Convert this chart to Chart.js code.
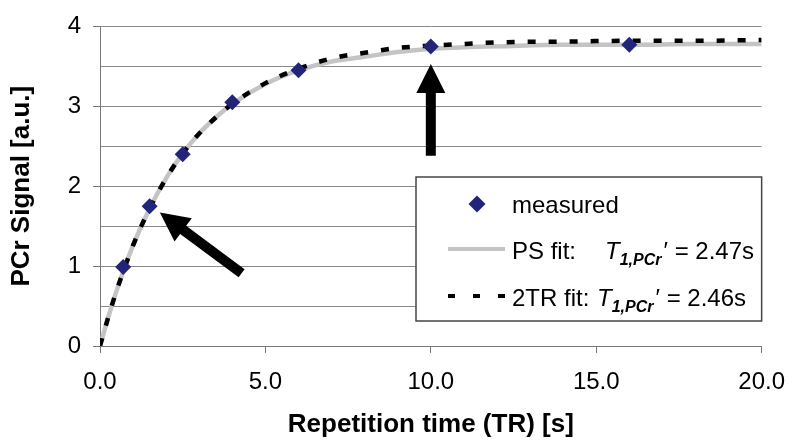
<!DOCTYPE html>
<html>
<head>
<meta charset="utf-8">
<script src="https://cdn.jsdelivr.net/npm/chart.js@4/dist/chart.umd.min.js"></script>
<style>
    html, body { margin: 0; padding: 0; background: #ffffff; }
    #wrap { width: 800px; height: 447px; position: relative; }
</style>
</head>
<body>
<div id="wrap"><canvas id="pcr-chart"></canvas></div>
<script>
// measured points
const measuredTR = [0.7, 1.5, 2.5, 4.0, 6.0, 10.0, 16.0];
const measuredSignal = [0.99, 1.75, 2.40, 3.05, 3.45, 3.75, 3.77];

// fit curves
const fitTR = [0, 0.25, 0.5, 1, 1.5, 2, 2.5, 3, 3.5, 4, 5, 6, 7, 8, 9, 10, 11, 12, 14, 16, 18, 20];
const psFit = [0, 0.36, 0.69, 1.26, 1.72, 2.10, 2.41, 2.66, 2.86, 3.03, 3.28, 3.45, 3.56, 3.62, 3.68, 3.72, 3.74, 3.75, 3.77, 3.77, 3.78, 3.78];
const tr2Fit = [0, 0.36, 0.69, 1.26, 1.72, 2.10, 2.41, 2.66, 2.86, 3.03, 3.29, 3.47, 3.60, 3.67, 3.73, 3.76, 3.78, 3.80, 3.81, 3.82, 3.82, 3.83];

// axis ticks
const xTicks = [0, 5, 10, 15, 20];
const yMin = 0, yMax = 4, yStep = 0.5;

// legend entries
const legendLabels = ['measured', 'PS fit:', '2TR fit:'];
const legendT1 = ['2.47s', '2.46s'];

// arrows, tip and tail in data units
const arrows = [
    { tip: [1.81, 1.67], tail: [4.28, 0.91] },
    { tip: [10.0, 3.53], tail: [10.0, 2.38] }
];

const FONT = '"Liberation Sans", Arial, sans-serif';
const NAVY = '#22247a';

function toPoints(xs, ys) {
    return xs.map((x, i) => ({ x: x, y: ys[i] }));
}

function drawArrow(ctx, x1, y1, x2, y2, shaft, headLen, headW) {
    // x1,y1 = tail ; x2,y2 = tip
    const ang = Math.atan2(y2 - y1, x2 - x1);
    const len = Math.hypot(x2 - x1, y2 - y1);
    ctx.save();
    ctx.translate(x1, y1);
    ctx.rotate(ang);
    ctx.beginPath();
    ctx.moveTo(0, -shaft / 2);
    ctx.lineTo(len - headLen, -shaft / 2);
    ctx.lineTo(len - headLen, -headW / 2);
    ctx.lineTo(len, 0);
    ctx.lineTo(len - headLen, headW / 2);
    ctx.lineTo(len - headLen, shaft / 2);
    ctx.lineTo(0, shaft / 2);
    ctx.closePath();
    ctx.fillStyle = '#000000';
    ctx.fill();
    ctx.restore();
}

const annotationPlugin = {
    id: 'annotations',
    afterDatasetsDraw(chart) {
        const ctx = chart.ctx;
        const xs = chart.scales.x, ys = chart.scales.y;
        arrows.forEach(a => {
            drawArrow(ctx,
                xs.getPixelForValue(a.tail[0]), ys.getPixelForValue(a.tail[1]),
                xs.getPixelForValue(a.tip[0]), ys.getPixelForValue(a.tip[1]),
                10, 29, 29);
        });
    },
    afterDraw(chart) {
        const ctx = chart.ctx;
        const area = chart.chartArea;
        // legend box
        const bx = 416, by = 177, bw = area.right - 416, bh = 144;
        ctx.save();
        ctx.fillStyle = '#ffffff';
        ctx.fillRect(bx, by, bw, bh);
        ctx.strokeStyle = '#444444';
        ctx.lineWidth = 1.5;
        ctx.strokeRect(bx, by, bw, bh);

        const rows = [213, 259, 306];
        const textX = 512;

        // marker
        ctx.beginPath();
        const mx = 477, my = rows[0] - 9, r = 8.5;
        ctx.moveTo(mx, my - r);
        ctx.lineTo(mx + r, my);
        ctx.lineTo(mx, my + r);
        ctx.lineTo(mx - r, my);
        ctx.closePath();
        ctx.fillStyle = NAVY;
        ctx.fill();

        // gray line
        ctx.strokeStyle = '#c4c4c4';
        ctx.lineWidth = 4;
        ctx.beginPath();
        ctx.moveTo(448, rows[1] - 10);
        ctx.lineTo(505, rows[1] - 10);
        ctx.stroke();

        // dashed line
        ctx.strokeStyle = '#000000';
        ctx.setLineDash([7, 18]);
        ctx.beginPath();
        ctx.moveTo(448, rows[2] - 10);
        ctx.lineTo(506, rows[2] - 10);
        ctx.stroke();
        ctx.setLineDash([]);

        ctx.fillStyle = '#000000';
        ctx.textBaseline = 'alphabetic';
        ctx.textAlign = 'left';
        ctx.font = '24px ' + FONT;
        ctx.fillText(legendLabels[0], textX, rows[0]);

        const tX = [605, 597];
        for (let i = 0; i < 2; i++) {
            const y = rows[i + 1];
            ctx.font = '24px ' + FONT;
            ctx.fillText(legendLabels[i + 1], textX, y);
            let x = tX[i];
            ctx.font = 'italic 24px ' + FONT;
            ctx.fillText('T', x, y);
            x += ctx.measureText('T').width;
            ctx.font = 'italic bold 16px ' + FONT;
            ctx.fillText('1,PCr', x, y + 6);
            x += ctx.measureText('1,PCr').width + 2;
            ctx.font = '24px ' + FONT;
            ctx.fillText('\u2032 = ' + legendT1[i], x, y);
        }
        ctx.restore();
    }
};

new Chart(document.getElementById('pcr-chart').getContext('2d'), {
    type: 'scatter',
    data: {
        datasets: [
            {
                label: 'measured',
                data: toPoints(measuredTR, measuredSignal),
                pointStyle: 'rectRot',
                pointRadius: 8,
                pointBackgroundColor: NAVY,
                pointBorderColor: NAVY,
                pointBorderWidth: 0,
                showLine: false,
                order: 0
            },
            {
                label: '2TR fit',
                data: toPoints(fitTR, tr2Fit),
                showLine: true,
                borderColor: '#000000',
                borderWidth: 4.5,
                borderDash: [8, 13],
                pointRadius: 0,
                cubicInterpolationMode: 'monotone',
                order: 1
            },
            {
                label: 'PS fit',
                data: toPoints(fitTR, psFit),
                showLine: true,
                borderColor: '#c4c4c4',
                borderWidth: 4.5,
                pointRadius: 0,
                cubicInterpolationMode: 'monotone',
                order: 2
            }
        ]
    },
    options: {
        responsive: true,
        maintainAspectRatio: false,
        animation: false,
        layout: {
            padding: { left: 0, right: 37, top: 20, bottom: 0 }
        },
        scales: {
            x: {
                type: 'linear',
                min: 0,
                max: 20,
                afterBuildTicks: scale => {
                    scale.ticks = xTicks.map(v => ({ value: v }));
                },
                afterFit: scale => { scale.height = 101; },
                ticks: {
                    color: '#000000',
                    font: { family: FONT, size: 24 },
                    padding: 15,
                    maxRotation: 0,
                    callback: v => Number(v).toFixed(1)
                },
                grid: {
                    drawOnChartArea: false,
                    drawTicks: true,
                    tickLength: 7,
                    tickColor: '#777777'
                },
                border: { display: true, color: '#777777', width: 1 },
                title: {
                    display: true,
                    text: 'Repetition time (TR) [s]',
                    color: '#000000',
                    font: { family: FONT, size: 26, weight: 'bold' },
                    padding: { top: 0, bottom: 7 }
                }
            },
            y: {
                type: 'linear',
                min: yMin,
                max: yMax,
                afterFit: scale => { scale.width = 100; },
                ticks: {
                    stepSize: yStep,
                    color: '#000000',
                    font: { family: FONT, size: 24 },
                    padding: 12,
                    callback: v => (Number.isInteger(v) ? String(v) : '')
                },
                grid: {
                    color: '#8a8a8a',
                    lineWidth: 1,
                    tickLength: 7,
                    tickColor: ctx => (Number.isInteger(ctx.tick.value) ? '#777777' : 'rgba(0,0,0,0)')
                },
                border: { display: true, color: '#777777', width: 1 },
                title: {
                    display: true,
                    text: 'PCr Signal [a.u.]',
                    color: '#000000',
                    font: { family: FONT, size: 26, weight: 'bold' },
                    padding: { top: 6, bottom: 6 }
                }
            }
        },
        plugins: {
            legend: { display: false },
            tooltip: { enabled: false }
        }
    },
    plugins: [annotationPlugin]
});
</script>
</body>
</html>
